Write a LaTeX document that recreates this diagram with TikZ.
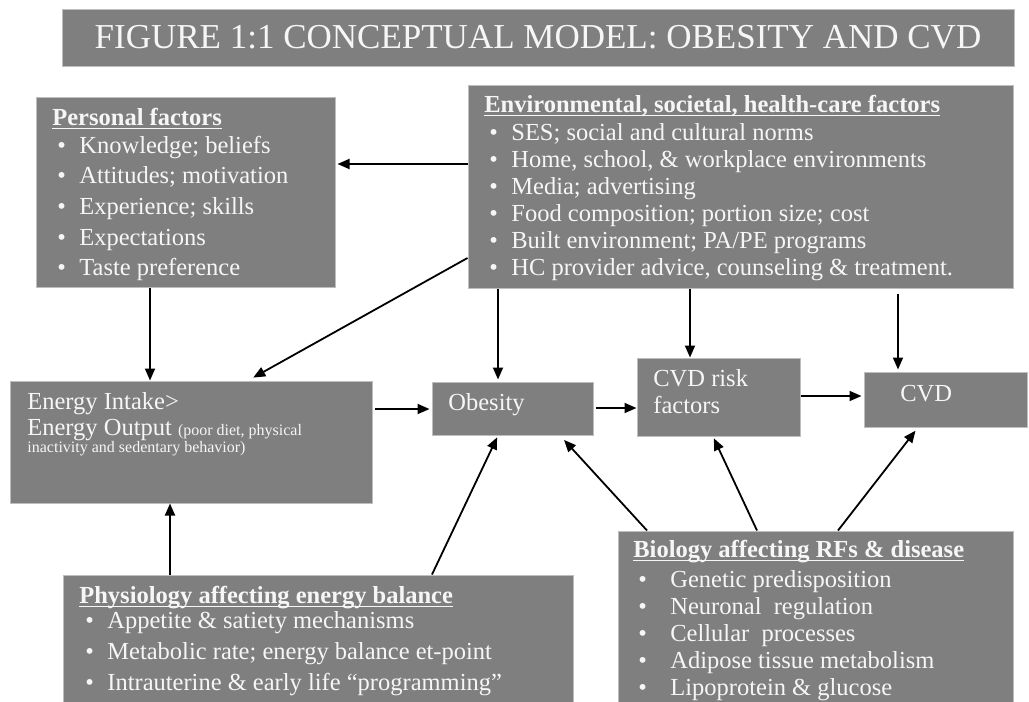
\documentclass[tikz,border=0pt]{standalone}
\usepackage{fontspec}
\setmainfont{Liberation Serif}
\usetikzlibrary{arrows.meta,fit}
\definecolor{boxgray}{RGB}{127,127,127}
\definecolor{boxrim}{RGB}{190,190,190}
\definecolor{boxtext}{RGB}{246,246,246}
\newcommand{\bodysize}{\fontsize{12.25}{14}\selectfont}
\newcommand{\smallsize}{\fontsize{8}{9}\selectfont}
\newcommand{\headtxt}[1]{\setbox0\hbox{\bfseries #1}\rlap{\rule[-2.2pt]{\wd0}{0.7pt}}\box0}

\begin{document}
\begin{tikzpicture}[x=0.5pt, y=-0.5pt,
  box/.style={rectangle, fill=boxgray, draw=boxrim, line width=0.5pt, inner sep=0pt},
  txt/.style={text=boxtext, font=\bodysize, inner sep=0pt, anchor=base west},
  flow/.style={-{Triangle[length=6pt,width=5pt]}, line width=0.9pt}]
  \fill[white] (0,0) rectangle (1029,702);
  \useasboundingbox (0,0) rectangle (1029,702);

  \node[box, fit={(62,9) (1014,66)}] (ttl) {};
  \node[txt, anchor=base, font=\fontsize{17.5}{20}\selectfont] (ttl-t) at (538,48)
    {FIGURE 1:1 CONCEPTUAL MODEL: OBESITY AND CVD};

  \node[box, fit={(36,97) (335,287)}] (pers) {};
  \node[box, fit={(468,85) (1013,288)}] (env) {};
  \node[box, fit={(10,381) (372,503)}] (en) {};
  \node[box, fit={(432,382) (593,435)}] (ob) {};
  \node[box, fit={(637,358) (800,436)}] (rf) {};
  \node[box, fit={(864,372) (1027,427)}] (cvd) {};
  \node[box, fit={(63,575) (573,705)}] (ph) {};
  \node[box, fit={(618,531) (1013,705)}] (bio) {};

  \node[txt] (pers-h) at (52,125) {\headtxt{Personal factors}};
  \foreach \t [count=\i from 0] in {Knowledge; beliefs, Attitudes; motivation,
      Experience; skills, Expectations, Taste preference}
    \node[txt] (pers-\i) at (57,{153+30.7*\i}) {\makebox[11pt][l]{\textbullet}\t};

  \node[txt] (env-h) at (484,112) {\headtxt{Environmental, societal, health-care factors}};
  \foreach \t [count=\i from 0] in {SES; social and cultural norms,
      {Home, school, \& workplace environments}, Media; advertising,
      Food composition; portion size; cost, Built environment; PA/PE programs,
      {HC provider advice, counseling \& treatment.}}
    \node[txt] (env-\i) at (489,{140+27*\i}) {\makebox[11pt][l]{\textbullet}\t};

  \node[txt] (en-1) at (27,409) {Energy Intake>};
  \node[txt] (en-2) at (27,435) {Energy Output {\smallsize(poor diet, physical}};
  \node[txt, font=\smallsize] (en-3) at (27,452) {inactivity and sedentary behavior)};

  \node[txt] (ob-t) at (448,410) {Obesity};
  \node[txt] (rf-1) at (653,386) {CVD risk};
  \node[txt] (rf-2) at (653,413) {factors};
  \node[txt] (cvd-t) at (900,401) {CVD};

  \node[txt] (ph-h) at (79,603) {\headtxt{Physiology affecting energy balance}};
  \foreach \t [count=\i from 0] in {Appetite \& satiety mechanisms,
      Metabolic rate; energy balance et-point,
      Intrauterine \& early life “programming”}
    \node[txt] (ph-\i) at (85,{628+31*\i}) {\makebox[11pt][l]{\textbullet}\t};

  \node[txt] (bio-h) at (633,557) {\headtxt{Biology affecting RFs \& disease}};
  \foreach \t [count=\i from 0] in {Genetic predisposition, Neuronal~ regulation,
      Cellular~ processes, Adipose tissue metabolism, Lipoprotein \& glucose}
    \node[txt] (bio-\i) at (638,{587+27*\i}) {\makebox[16pt][l]{\textbullet}\t};

  \draw[flow, shorten >=1pt] (env.west |- 0,164) -- (pers.east |- 0,164);
  \draw[flow, shorten >=3pt] (env.west |- 0,258) -- (248,0 |- en.north);
  \draw[flow] (150,0 |- pers.south) -- (150,0 |- en.north);
  \draw[flow, shorten >=1pt] (498,0 |- env.south) -- (498,0 |- ob.north);
  \draw[flow] (690,0 |- env.south) -- (690,0 |- rf.north);
  \draw[flow, shorten <=2.5pt, shorten >=1pt] (898,0 |- env.south) -- (898,0 |- cvd.north);
  \draw[flow, shorten <=1pt, shorten >=1pt] (en.east |- 0,409) -- (ob.west |- 0,409);
  \draw[flow, shorten <=1pt] (ob.east |- 0,408) -- (rf.west |- 0,408);
  \draw[flow, shorten >=1pt] (rf.east |- 0,396) -- (cvd.west |- 0,396);
  \draw[flow] (170,0 |- ph.north) -- (170,0 |- en.south);
  \draw[flow, shorten >=1pt] (432,0 |- ph.north) -- (498,0 |- ob.south);
  \draw[flow, shorten >=3pt] (647,0 |- bio.north) -- (560,0 |- ob.south);
  \draw[flow, shorten >=1pt] (757,0 |- bio.north) -- (713,0 |- rf.south);
  \draw[flow, shorten >=2pt] (838,0 |- bio.north) -- (918,0 |- cvd.south);
\end{tikzpicture}
\end{document}
